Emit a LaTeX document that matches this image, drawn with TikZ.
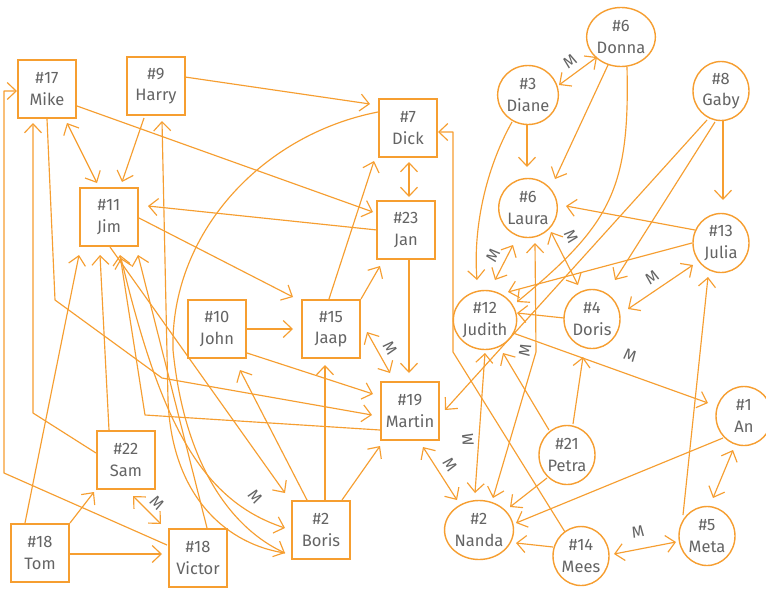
\documentclass[tikz,border=0pt]{standalone}
\usepackage{fontspec}
\setmainfont{Fira Sans}
\usetikzlibrary{arrows.meta,calc,shapes.geometric}
\definecolor{org}{RGB}{246,158,48}
\definecolor{txt}{RGB}{100,100,100}

\begin{document}
\begin{tikzpicture}[x=1pt,y=-1pt,
  person/.style={draw=org, line width=1.4pt, text=txt, align=center,
    font=\fontsize{16.5}{21.5}\selectfont, inner sep=0pt,
    execute at begin node={\rule{0pt}{18pt}}},
  man/.style={person, rectangle, minimum width=58pt, minimum height=58pt},
  woman/.style={person, ellipse, minimum width=56pt, minimum height=59pt},
  link/.style={draw=org, line width=1.15pt, line join=round},
  ar/.style={link, -{Straight Barb[length=9pt,width=17pt]}},
  biar/.style={link, {Straight Barb[length=9pt,width=17pt]}-{Straight Barb[length=9pt,width=17pt]}},
  mlab/.style={text=txt, font=\fontsize{16}{16}\selectfont, inner sep=0pt}
]
\fill[white] (0,0) rectangle (766,590);
\useasboundingbox (0,0) rectangle (766,590);

% men
\node[man] (mike)   at (47,89)   {\#17\\Mike};
\node[man] (harry)  at (156,86)  {\#9\\Harry};
\node[man] (jim)    at (109,217) {\#11\\Jim};
\node[man] (dick)   at (408,128) {\#7\\Dick};
\node[man] (jan)    at (406,230) {\#23\\Jan};
\node[man] (john)   at (217,329) {\#10\\John};
\node[man] (jaap)   at (331,329) {\#15\\Jaap};
\node[man] (martin) at (410,411) {\#19\\Martin};
\node[man] (boris)  at (321,530) {\#2\\Boris};
\node[man] (sam)    at (126,460) {\#22\\Sam};
\node[man] (tom)    at (40,553)  {\#18\\Tom};
\node[man] (victor) at (198,558) {\#18\\Victor};

% women
\node[woman] (donna)  at (621,37)  {\#6\\Donna};
\node[woman] (diane)  at (528,95)  {\#3\\Diane};
\node[woman] (gaby)   at (721,91)  {\#8\\Gaby};
\node[woman] (laura)  at (528,208) {\#6\\Laura};
\node[woman] (julia)  at (721,243) {\#13\\Julia};
\node[woman] (judith) at (485,320) {\#12\\Judith};
\node[woman] (doris)  at (592,319) {\#4\\Doris};
\node[woman] (an)     at (744,416) {\#1\\An};
\node[woman] (petra)  at (567,455) {\#21\\Petra};
\node[woman] (nanda)  at (479,530) {\#2\\Nanda};
\node[woman] (mees)   at (581,556) {\#14\\Mees};
\node[woman] (meta)   at (707,536) {\#5\\Meta};

% left group
\draw[ar] ($(mike)+(30,17)$) -- ($(jan)+(-33,-18)$);
\draw[biar] ($(mike)+(20,34)$) -- ($(jim)+(-12,-34)$);
\draw[ar] ($(harry)+(-12,32)$) -- ($(jim)+(13,-35)$);
\draw[ar] ($(harry)+(29,-9)$) -- ($(dick)+(-38,-24)$);
\draw[ar] ($(jan)+(-29,0)$) -- ($(jim)+(39,-11)$);
\draw[ar] ($(jim)+(30,1)$) -- ($(jaap)+(-38,-32)$);
\draw[ar] ($(john)+(30,0)$) -- ($(jaap)+(-38,0)$);
\draw[ar] ($(john)+(30,24)$) -- ($(martin)+(-37,-17)$);
\draw[ar] ($(jaap)+(-2,-30)$) -- ($(dick)+(-34,33)$);
\draw[ar] ($(jaap)+(30,-30)$) -- ($(jan)+(-26,36)$);
\draw[biar] ($(dick)+(1,34)$) -- ($(jan)+(3,-33)$);
\draw[ar] ($(jan)+(3,29)$) -- ($(martin)+(-1,-38)$);
\draw[biar] ($(jaap)+(36,3)$) -- ($(martin)+(-20,-38)$);
\node[mlab, rotate=-60] (m1) at (390,348) {M};
\draw[ar] ($(mike)+(0,30)$) -- (55,300) -- (162,378) -- ($(martin)+(-38,4)$);
\draw[ar] ($(martin)+(-30,19)$) -- (145,415) -- ($(jim)+(11,38)$);
\draw[ar] ($(sam)+(-30,-7)$) -- (33,413) -- ($(mike)+(-14,34)$);
\draw[ar] ($(victor)+(-31,-13)$) -- (4,473) -- (4,91) -- ($(mike)+(-30,2)$);
\draw[ar] ($(tom)+(-15,-30)$) -- ($(jim)+(-30,38)$);
\draw[ar] ($(sam)+(-17,-30)$) -- ($(jim)+(-9,38)$);
\draw[ar] ($(victor)+(9,-30)$) -- ($(jim)+(29,38)$);
\draw[ar] ($(tom)+(30,-30)$) -- ($(sam)+(-32,32)$);
\draw[ar] ($(tom)+(30,1)$) -- ($(victor)+(-36,-4)$);
\draw[biar] ($(sam)+(7,36)$) -- ($(victor)+(-37,-34)$);
\node[mlab, rotate=-45] (m2) at (157,503) {M};
\draw[ar] ($(jim)+(1,30)$) -- ($(boris)+(-36,-37)$);
\draw[ar] ($(boris)+(-14,-30)$) -- ($(john)+(23,41)$);
\draw[ar] ($(boris)+(4,-30)$) -- ($(jaap)+(-6,36)$);
\draw[ar] ($(boris)+(21,-30)$) -- ($(martin)+(-30,35)$);
\draw[ar] ($(dick)+(-30,-16)$) .. controls (260,135) and (170,235) .. (173,350)
  .. controls (185,470) and (235,530) .. ($(boris)+(-36,23)$);
\draw[biar] ($(jim)+(12,41)$) .. controls (160,420) and (200,500) .. ($(boris)+(-36,-2)$);
\node[mlab, rotate=-50] (m3) at (255,497) {M};
\draw[ar] ($(boris)+(-36,23)$) .. controls (230,545) and (172,500) .. (168,400) -- ($(harry)+(6,35)$);

% right group
\draw[biar] ($(diane)+(31,-10)$) -- ($(donna)+(-24,20)$);
\node[mlab, rotate=36] (m4) at (570,61) {M};
\draw[ar] ($(donna)+(-13,28)$) -- ($(laura)+(27,-29)$);
\draw[ar] ($(donna)+(6,30)$) .. controls (630,190) and (610,225) .. ($(judith)+(32,-18)$);
\draw[ar] ($(diane)+(-1,30)$) -- ($(laura)+(-1,-41)$);
\draw[ar] ($(diane)+(-16,27)$) .. controls (485,170) and (473,230) .. ($(judith)+(-8,-40)$);
\draw[biar] ($(judith)+(10,-40)$) -- ($(laura)+(-15,37)$);
\node[mlab, rotate=63] (m5) at (493,255) {M};
\draw[biar] ($(laura)+(23,24)$) -- ($(doris)+(-14,-34)$);
\node[mlab, rotate=-63] (m6) at (571,237) {M};
\draw[ar] ($(julia)+(-26,-13)$) -- ($(laura)+(38,-2)$);
\draw[ar] ($(julia)+(-29,0)$) -- ($(judith)+(23,-28)$);
\draw[ar] ($(doris)+(-28,-1)$) -- ($(judith)+(32,-7)$);
\draw[biar] ($(julia)+(-28,22)$) -- ($(doris)+(36,-10)$);
\node[mlab, rotate=34] (m7) at (652,277) {M};
\draw[ar] ($(gaby)+(2,30)$) -- ($(julia)+(2,-43)$);
\draw[ar] ($(gaby)+(-6,31)$) -- ($(doris)+(23,-39)$);
\draw[ar] ($(gaby)+(-14,29)$) -- ($(martin)+(35,-1)$);
\draw[ar] ($(judith)+(28,13)$) -- ($(an)+(-36,-13)$);
\node[mlab, rotate=-20] (m8) at (630,355) {M};
\draw[ar] ($(petra)+(6,-31)$) -- ($(doris)+(-9,38)$);
\draw[ar] ($(petra)+(-18,-25)$) -- ($(judith)+(18,33)$);
\draw[ar] ($(petra)+(-20,23)$) -- ($(nanda)+(31,-23)$);
\draw[ar] ($(an)+(-21,22)$) -- ($(nanda)+(37,-7)$);
\draw[biar] ($(an)+(-11,34)$) -- ($(meta)+(6,-38)$);
\draw[ar] ($(meta)+(-24,-21)$) -- ($(julia)+(-13,34)$);
\draw[biar] ($(mees)+(33,-2)$) -- ($(meta)+(-31,6)$);
\node[mlab, rotate=11] (m9) at (638,532) {M};
\draw[ar] ($(mees)+(-28,-9)$) -- ($(nanda)+(37,13)$);
\draw[ar] ($(mees)+(-16,-24)$) -- (453,352) -- (453,132) -- ($(dick)+(30,4)$);
\draw[biar] ($(judith)+(0,33)$) -- ($(nanda)+(-4,-37)$);
\node[mlab, rotate=94] (m10) at (468,440) {M};
\draw[biar] ($(martin)+(13,36)$) -- ($(nanda)+(-22,-30)$);
\node[mlab, rotate=-57] (m11) at (450,465) {M};
\draw[biar] ($(nanda)+(14,-32)$) -- (536,352) -- ($(laura)+(7,35)$);
\node[mlab, rotate=80] (m12) at (525,350) {M};
\end{tikzpicture}
\end{document}
